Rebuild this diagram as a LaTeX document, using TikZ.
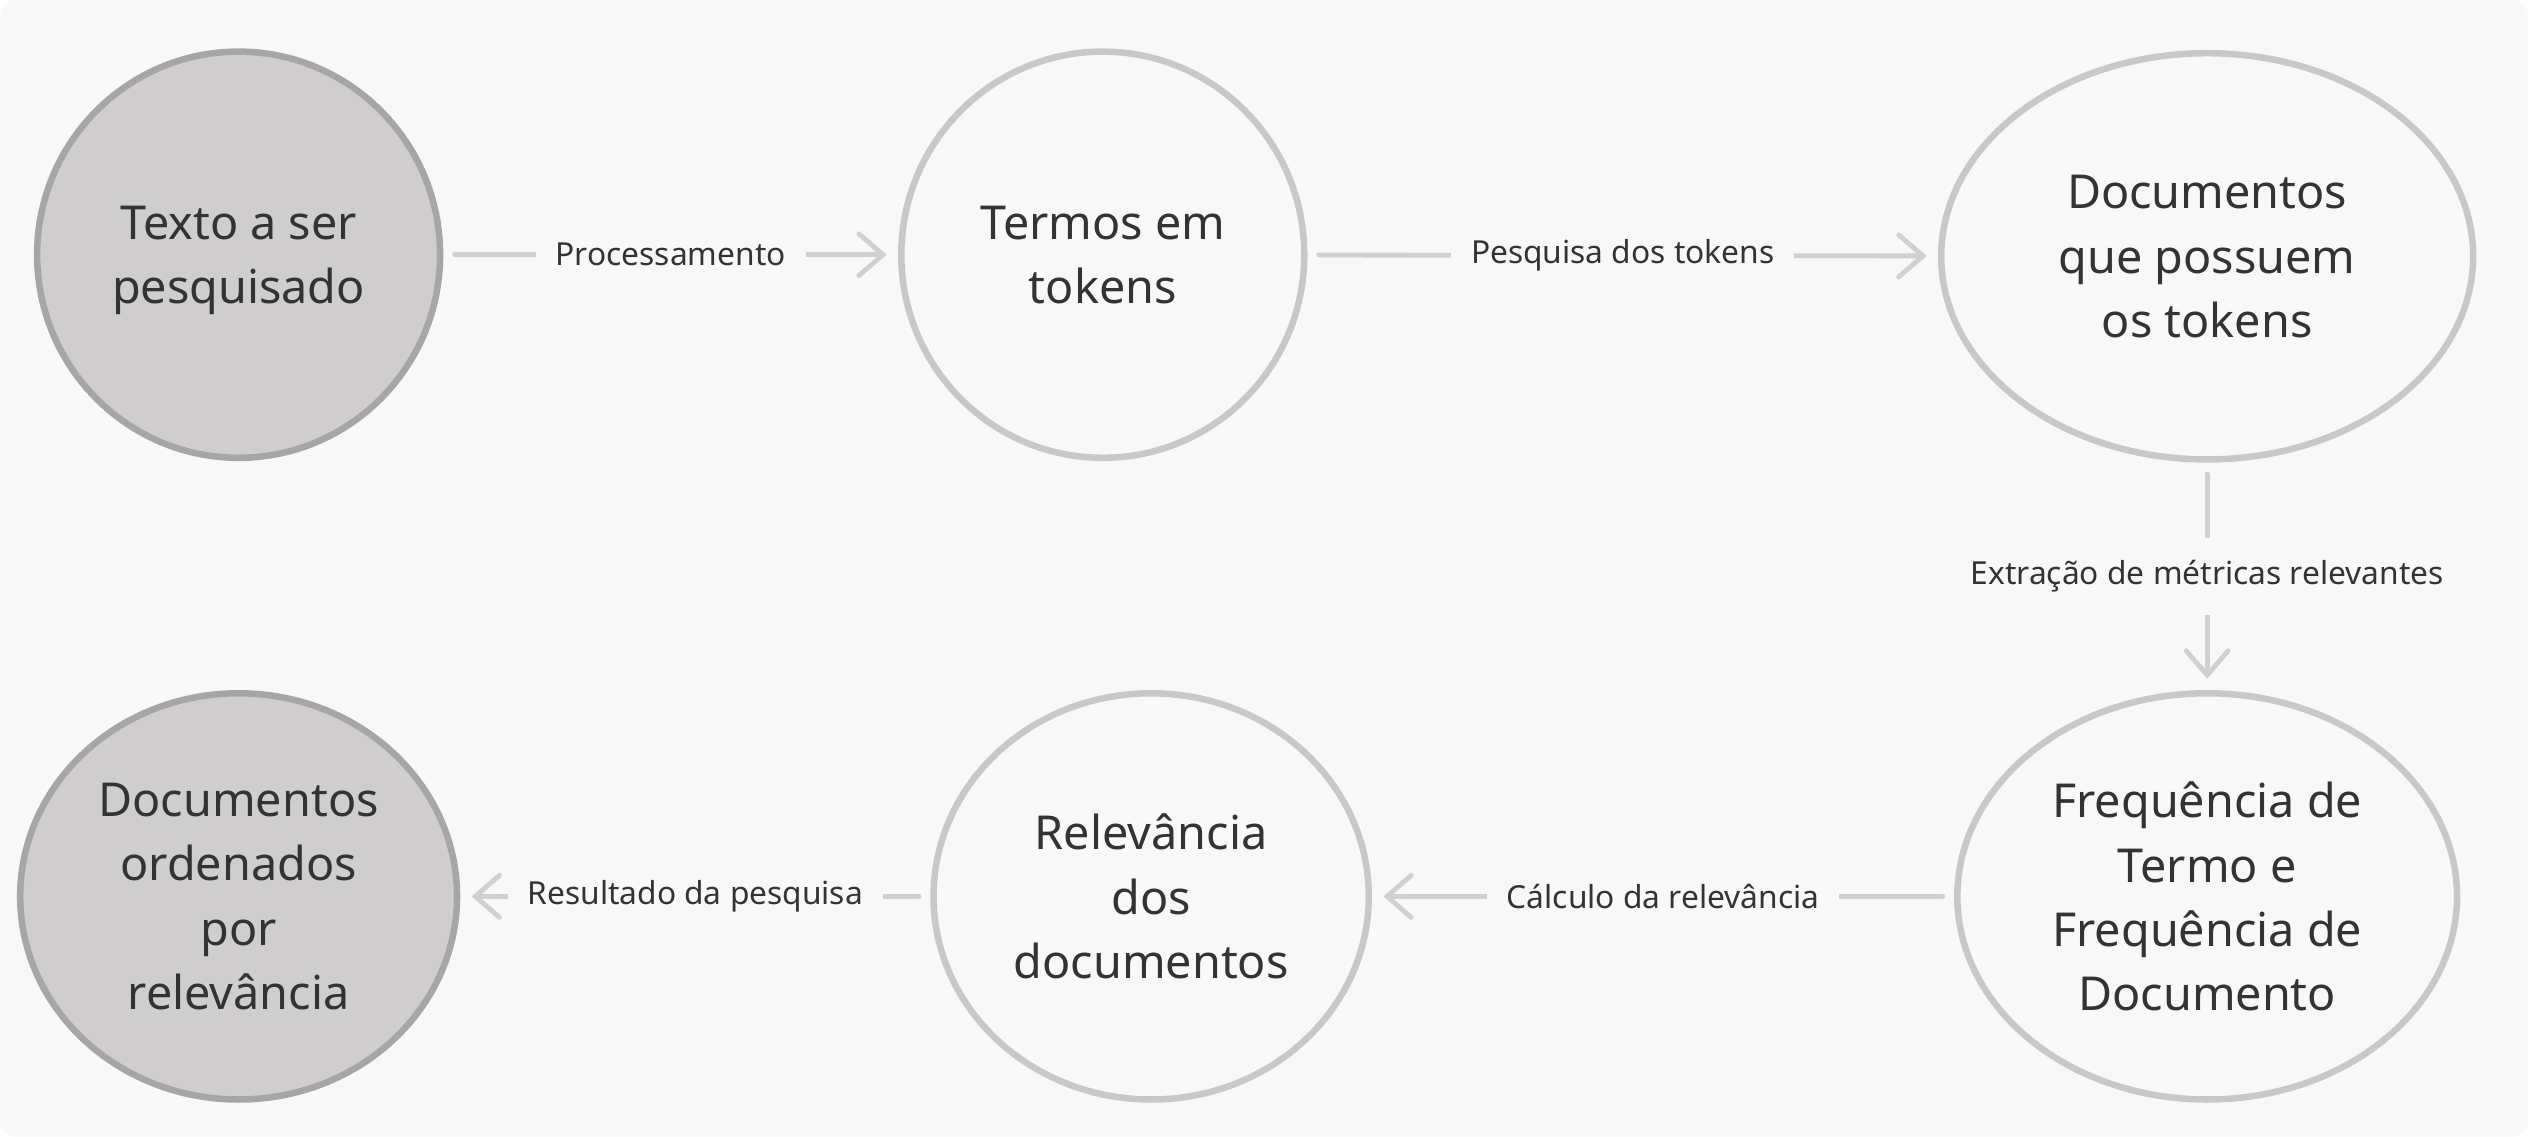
\documentclass[tikz,border=0pt]{standalone}
\usepackage{fontspec}
\setmainfont{Noto Sans}
\usetikzlibrary{arrows.meta,shapes.geometric}

\definecolor{bgcol}{HTML}{F8F8F8}
\definecolor{inkcol}{HTML}{333333}
\definecolor{rimcol}{HTML}{C8C8C8}
\definecolor{darkrim}{HTML}{A7A5A6}
\definecolor{greyfill}{HTML}{CFCDCE}
\definecolor{linecol}{HTML}{D0D0D0}

\begin{document}
\begin{tikzpicture}[
  x=0.02cm, y=0.02cm,
  stage/.style={draw=rimcol, fill=bgcol, ellipse, line width=2.3pt, inner sep=0pt,
    align=center, text=inkcol, font=\fontsize{16.5}{22.7}\selectfont,
    text depth=0pt, minimum height=5.04cm},
  endpoint/.style={stage, draw=darkrim, fill=greyfill},
  flow/.style={draw=linecol, line width=1.7pt, line cap=round,
    -{Straight Barb[length=0.3cm, width=0.52cm, line cap=round]},
    shorten >=4pt, shorten <=4pt},
  lbl/.style={fill=bgcol, text=inkcol, inner xsep=7pt, inner ysep=8pt,
    font=\fontsize{11.2}{13}\selectfont}
]

% Background
\fill[white] (0,0) rectangle (1568,705);
\fill[bgcol, rounded corners=0.2cm] (0,0) rectangle (1568,705);
\useasboundingbox (0,0) rectangle (1568,705);

% Nodes
\node[endpoint, minimum width=5cm] (texto) at (148,547) {Texto a ser\\pesquisado};
\node[stage, minimum width=5cm] (termos) at (684,547) {Termos em\\tokens};
\node[stage, minimum width=6.6cm] (docs) at (1369,546) {Documentos\\que possuem\\os tokens};
\node[stage, minimum width=6.2cm] (freq) at (1369,149) {Frequência de\\Termo e\\Frequência de\\Documento};
\node[stage, minimum width=5.4cm] (relev) at (714,149) {Relevância\\dos\\documentos};
\node[endpoint, minimum width=5.42cm] (ordem) at (148,149) {Documentos\\ordenados\\por\\relevância};

% Arrows
\draw[flow] (texto) -- node[lbl] {Processamento} (termos);
\draw[flow] (termos) -- node[lbl] {Pesquisa dos tokens} (docs);
\draw[flow] (docs) -- node[lbl] {Extração de métricas relevantes} (freq);
\draw[flow] (freq) -- node[lbl] {Cálculo da relevância} (relev);
\draw[flow] (relev) -- node[lbl] {Resultado da pesquisa} (ordem);

\end{tikzpicture}
\end{document}
